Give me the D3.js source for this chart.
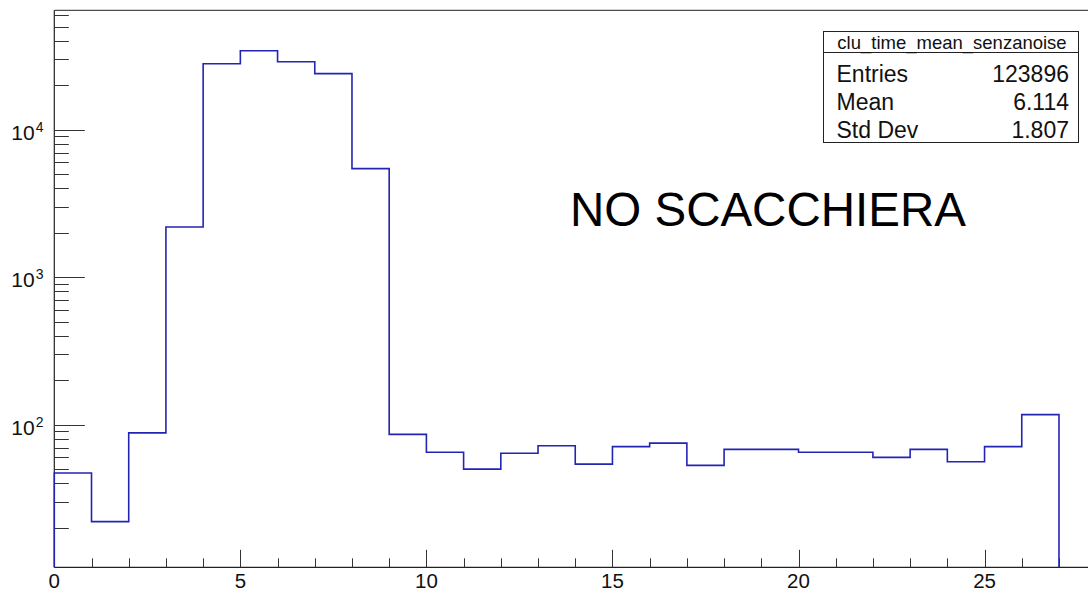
<!DOCTYPE html>
<html>
<head>
<meta charset="utf-8">
<script src="https://cdn.jsdelivr.net/npm/d3@7"></script>
<style>
  body { margin: 0; background: #fff; }
  svg { display: block; font-family: "Liberation Sans", Arial, Helvetica, sans-serif; }
</style>
</head>
<body>
<div id="chart"></div>
<script>
var width = 1088,
  height = 591;

// histogram clu_time_mean_senzanoise, bins of width 1 from 0 to 27
var binLow = [0, 1, 2, 3, 4, 5, 6, 7, 8, 9, 10, 11, 12, 13, 14, 15, 16, 17, 18, 19, 20, 21, 22, 23, 24, 25, 26];
var binCounts = [47, 22, 88, 2190, 28000, 34300, 28900, 24000, 5450, 86, 65, 50, 64, 72, 54, 71, 75, 53, 68, 68, 65, 65, 60, 68, 56, 71, 117];

var xMajorTicks = [0, 5, 10, 15, 20, 25];
var xMinorTicks = d3.range(0, 28);
var yMajorTicks = [100, 1000, 10000];
var yExponents = ["2", "3", "4"];

var statNames = ["Entries", "Mean", "Std Dev"];
var statValues = ["123896", "6.114", "1.807"];
var histName = "clu_time_mean_senzanoise";
var label = "NO SCACCHIERA";

var margin = { left: 54.3, top: 10.3, bottom: 567.3 };

var x = d3.scaleLinear()
  .domain([0, 28.5])
  .range([margin.left, margin.left + 28.5 * 37.21]);

var y = d3.scaleLog()
  .domain([10.79, 64500])
  .range([margin.bottom, margin.top]);

var svg = d3.select("#chart").append("svg")
  .attr("width", width)
  .attr("height", height);

// minor log ticks: 2..9 times each decade
var yMinorTicks = [];
[10, 100, 1000, 10000].forEach(function(dec) {
  for (var k = 2; k <= 9; k++) {
    var v = k * dec;
    if (v > y.domain()[0] && v < y.domain()[1]) yMinorTicks.push(v);
  }
});

// frame
svg.append("line")
  .attr("x1", margin.left).attr("x2", width)
  .attr("y1", margin.top).attr("y2", margin.top)
  .attr("stroke", "#222").attr("stroke-width", 1);

// y axis
var yAxis = svg.append("g");
yAxis.append("line")
  .attr("x1", margin.left).attr("x2", margin.left)
  .attr("y1", margin.top).attr("y2", margin.bottom)
  .attr("stroke", "#222").attr("stroke-width", 1.2);
yAxis.selectAll(".yminor")
  .data(yMinorTicks)
  .enter().append("line")
    .attr("x1", margin.left).attr("x2", margin.left + 14.5)
    .attr("y1", function(d) { return Math.round(y(d)) + 0.5; })
    .attr("y2", function(d) { return Math.round(y(d)) + 0.5; })
    .attr("stroke", "#333").attr("stroke-width", 1);
yAxis.selectAll(".ymajor")
  .data(yMajorTicks)
  .enter().append("line")
    .attr("x1", margin.left).attr("x2", margin.left + 30.5)
    .attr("y1", function(d) { return Math.round(y(d)) + 0.5; })
    .attr("y2", function(d) { return Math.round(y(d)) + 0.5; })
    .attr("stroke", "#333").attr("stroke-width", 1);
var yLabels = yAxis.selectAll(".ylabel")
  .data(yMajorTicks)
  .enter().append("text")
    .attr("x", 43.5)
    .attr("y", function(d) { return y(d) + 10; })
    .attr("text-anchor", "end")
    .attr("font-size", 21)
    .attr("fill", "#111");
yLabels.append("tspan").text("10");
yLabels.append("tspan")
  .attr("font-size", 14)
  .attr("dy", -8)
  .attr("dx", 1)
  .text(function(d, i) { return yExponents[i]; });

// x axis
var xAxis = svg.append("g");
xAxis.append("line")
  .attr("x1", margin.left).attr("x2", width)
  .attr("y1", margin.bottom).attr("y2", margin.bottom)
  .attr("stroke", "#222").attr("stroke-width", 1.2);
xAxis.selectAll(".xminor")
  .data(xMinorTicks.filter(function(d) { return xMajorTicks.indexOf(d) < 0; }))
  .enter().append("line")
    .attr("x1", function(d) { return Math.round(x(d)) + 0.5; })
    .attr("x2", function(d) { return Math.round(x(d)) + 0.5; })
    .attr("y1", margin.bottom).attr("y2", margin.bottom - 9)
    .attr("stroke", "#333").attr("stroke-width", 1);
xAxis.selectAll(".xmajor")
  .data(xMajorTicks)
  .enter().append("line")
    .attr("x1", function(d) { return Math.round(x(d)) + 0.5; })
    .attr("x2", function(d) { return Math.round(x(d)) + 0.5; })
    .attr("y1", margin.bottom).attr("y2", margin.bottom - 17.5)
    .attr("stroke", "#333").attr("stroke-width", 1);
xAxis.selectAll(".xlabel")
  .data(xMajorTicks)
  .enter().append("text")
    .attr("x", function(d) { return x(d); })
    .attr("y", 588)
    .attr("text-anchor", "middle")
    .attr("font-size", 20.5)
    .attr("fill", "#111")
    .text(function(d) { return d; });

// histogram outline as a step path
var pts = [[binLow[0], y.domain()[0]]];
binLow.forEach(function(lo, i) {
  pts.push([lo, binCounts[i]]);
  pts.push([lo + 1, binCounts[i]]);
});
pts.push([binLow[binLow.length - 1] + 1, y.domain()[0]]);

var line = d3.line()
  .x(function(d) { return x(d[0]); })
  .y(function(d) { return y(d[1]); });

svg.append("path")
  .datum(pts)
  .attr("fill", "none")
  .attr("stroke", "#2424b4")
  .attr("stroke-width", 1.6)
  .attr("d", line);

// stats box
var box = svg.append("g");
box.append("rect")
  .attr("x", 823.5).attr("y", 31.5)
  .attr("width", 255).attr("height", 111)
  .attr("fill", "#fff")
  .attr("stroke", "#222").attr("stroke-width", 1);
box.append("line")
  .attr("x1", 823.5).attr("x2", 1078.5)
  .attr("y1", 52.5).attr("y2", 52.5)
  .attr("stroke", "#222").attr("stroke-width", 1);
box.append("text")
  .attr("x", 952).attr("y", 48.5)
  .attr("text-anchor", "middle")
  .attr("font-size", 18.5)
  .attr("fill", "#111")
  .text(histName);
box.selectAll(".sname")
  .data(statNames)
  .enter().append("text")
    .attr("x", 836.5)
    .attr("y", function(d, i) { return 82 + i * 27.8; })
    .attr("font-size", 23)
    .attr("fill", "#111")
    .text(function(d) { return d; });
box.selectAll(".svalue")
  .data(statValues)
  .enter().append("text")
    .attr("x", 1069)
    .attr("y", function(d, i) { return 82 + i * 27.8; })
    .attr("text-anchor", "end")
    .attr("font-size", 23)
    .attr("fill", "#111")
    .text(function(d) { return d; });

svg.append("text")
  .attr("x", 570)
  .attr("y", 226)
  .attr("font-size", 47.5)
  .attr("fill", "#000")
  .text(label);
</script>
</body>
</html>
